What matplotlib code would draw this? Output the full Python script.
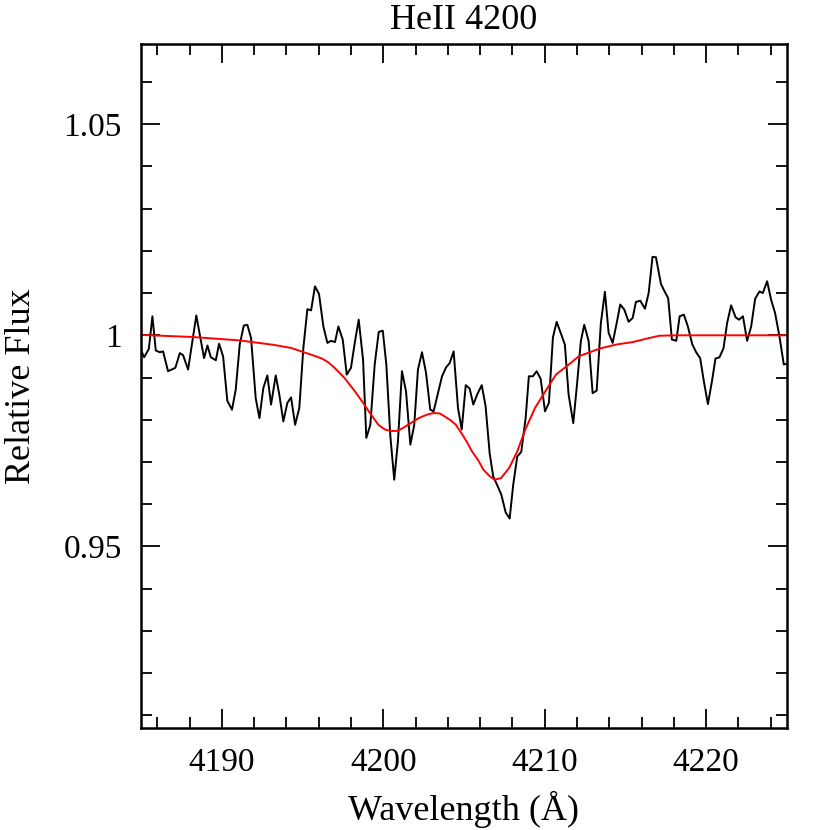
import numpy as np
import matplotlib
matplotlib.use("Agg")
import matplotlib.pyplot as plt
from matplotlib.ticker import MultipleLocator, FixedLocator, FixedFormatter

plt.rcParams['font.family'] = ['Liberation Serif', 'DejaVu Serif']

wave_obs = [4184.98, 4185.19, 4185.48, 4185.70, 4185.91, 4186.16, 4186.36, 4186.67, 4187.12, 4187.40,
            4187.60, 4187.91, 4188.42, 4188.90, 4189.11, 4189.32, 4189.63, 4189.83, 4190.08, 4190.34,
            4190.63, 4190.86, 4191.11, 4191.36, 4191.58, 4191.81, 4192.10, 4192.33, 4192.57, 4192.82,
            4193.05, 4193.34, 4193.56, 4193.81, 4194.06, 4194.29, 4194.54, 4194.80, 4195.05, 4195.30,
            4195.53, 4195.77, 4196.02, 4196.29, 4196.54, 4196.76, 4197.01, 4197.22, 4197.49, 4197.74,
            4198.00, 4198.25, 4198.48, 4198.75, 4198.95, 4199.20, 4199.47, 4199.72, 4199.97, 4200.19,
            4200.44, 4200.68, 4200.91, 4201.16, 4201.41, 4201.68, 4201.92, 4202.15, 4202.40, 4202.65,
            4202.91, 4203.12, 4203.39, 4203.64, 4203.89, 4204.11, 4204.36, 4204.63, 4204.86, 4205.11,
            4205.35, 4205.58, 4205.82, 4206.10, 4206.34, 4206.59, 4206.81, 4207.06, 4207.31, 4207.58,
            4207.83, 4208.05, 4208.30, 4208.55, 4208.82, 4209.02, 4209.27, 4209.50, 4209.75, 4210.02,
            4210.26, 4210.51, 4210.74, 4210.99, 4211.25, 4211.48, 4211.77, 4212.00, 4212.24, 4212.45,
            4212.72, 4212.97, 4213.22, 4213.48, 4213.73, 4213.96, 4214.21, 4214.46, 4214.68, 4214.93,
            4215.20, 4215.45, 4215.65, 4215.92, 4216.21, 4216.44, 4216.68, 4216.89, 4217.20, 4217.40,
            4217.65, 4217.88, 4218.15, 4218.36, 4218.62, 4218.87, 4219.14, 4219.38, 4219.63, 4219.86,
            4220.11, 4220.36, 4220.58, 4220.83, 4221.08, 4221.30, 4221.55, 4221.82, 4222.03, 4222.28,
            4222.54, 4222.79, 4223.04, 4223.31, 4223.51, 4223.78, 4224.02, 4224.27, 4224.54, 4224.81,
            4224.95]
flux_obs = [0.9966, 0.9948, 0.9968, 1.0045, 0.9964, 0.9960, 0.9962, 0.9915, 0.9923, 0.9958,
            0.9953, 0.9919, 1.0047, 0.9946, 0.9976, 0.9948, 0.9941, 0.9980, 0.9950, 0.9845,
            0.9824, 0.9871, 0.9978, 1.0023, 1.0025, 0.9994, 0.9851, 0.9804, 0.9875, 0.9905,
            0.9836, 0.9905, 0.9860, 0.9796, 0.9840, 0.9853, 0.9788, 0.9828, 0.9970, 1.0062,
            1.0059, 1.0116, 1.0098, 1.0021, 0.9982, 0.9987, 0.9984, 1.0021, 0.9990, 0.9907,
            0.9923, 0.9986, 1.0037, 0.9942, 0.9757, 0.9788, 0.9931, 1.0008, 1.0011, 0.9931,
            0.9761, 0.9658, 0.9749, 0.9915, 0.9867, 0.9741, 0.9788, 0.9919, 0.9960, 0.9911,
            0.9824, 0.9820, 0.9863, 0.9903, 0.9924, 0.9934, 0.9962, 0.9828, 0.9777, 0.9882,
            0.9874, 0.9836, 0.9860, 0.9882, 0.9832, 0.9721, 0.9666, 0.9645, 0.9623, 0.9581,
            0.9566, 0.9646, 0.9713, 0.9724, 0.9804, 0.9903, 0.9903, 0.9915, 0.9897, 0.9820,
            0.9840, 0.9995, 1.0032, 1.0006, 0.9978, 0.9860, 0.9792, 0.9883, 0.9986, 1.0025,
            0.9987, 0.9863, 0.9869, 1.0029, 1.0103, 1.0006, 0.9982, 1.0029, 1.0073, 1.0061,
            1.0032, 1.0041, 1.0079, 1.0082, 1.0063, 1.0100, 1.0186, 1.0185, 1.0122, 1.0106,
            1.0088, 0.9990, 0.9987, 1.0045, 1.0049, 1.0021, 0.9979, 0.9960, 0.9946, 0.9891,
            0.9837, 0.9891, 0.9945, 0.9948, 0.9970, 1.0029, 1.0071, 1.0043, 1.0037, 1.0045,
            0.9987, 1.0021, 1.0087, 1.0104, 1.0100, 1.0128, 1.0085, 1.0053, 0.9998, 0.9931,
            0.9932]

# model fit
wave_fit = [4185.0, 4188.2, 4191.1, 4193.2, 4194.3, 4195.0, 4195.7, 4196.2, 4196.6, 4197.0,
            4197.6, 4198.25, 4198.7, 4199.1, 4199.7, 4200.1, 4200.5, 4200.9, 4201.2, 4201.7,
            4202.2, 4202.7, 4203.1, 4203.5, 4203.8, 4204.2, 4204.5, 4204.9, 4205.2, 4205.5,
            4205.9, 4206.2, 4206.6, 4206.9, 4207.3, 4207.8, 4208.3, 4208.8, 4209.4, 4210.1,
            4210.7, 4211.5, 4212.1, 4213.4, 4214.4, 4215.45, 4216.3, 4217.1, 4218.1, 4225.0]
flux_fit = [1.0001, 0.9996, 0.9988, 0.99775, 0.9970, 0.9961, 0.9952, 0.9945, 0.9936, 0.99225,
            0.9899, 0.9867, 0.9843, 0.9820, 0.9788, 0.9777, 0.9773, 0.9774, 0.9780, 0.9792,
            0.9804, 0.9812, 0.9816, 0.9815, 0.9808, 0.9798, 0.9788, 0.9765, 0.9746, 0.9725,
            0.9703, 0.9682, 0.9666, 0.9658, 0.9662, 0.9686, 0.9725, 0.9777, 0.9828, 0.9871,
            0.9907, 0.9931, 0.9950, 0.99685, 0.9978, 0.9984, 0.9992, 0.9999, 1.0, 1.0]

fig = plt.figure(figsize=(8.3, 8.3), dpi=100)
ax = fig.add_axes([0.170, 0.1229, 0.778, 0.8241])

ax.plot(wave_obs, flux_obs, color='black', lw=1.4)
ax.plot(wave_fit, flux_fit, color='red', lw=1.4)

ax.set_xlim(4185, 4225)
ax.set_ylim(0.907, 1.069)

ax.xaxis.set_major_locator(MultipleLocator(10))
ax.xaxis.set_minor_locator(MultipleLocator(2))
ax.yaxis.set_major_locator(FixedLocator([0.95, 1.0, 1.05]))
ax.yaxis.set_major_formatter(FixedFormatter(['0.95', '1', '1.05']))
ax.yaxis.set_minor_locator(MultipleLocator(0.01))

ax.tick_params(which='both', direction='in', top=True, right=True, width=1.3, labelsize=24)
ax.tick_params(which='major', length=14, pad=14)
ax.tick_params(which='minor', length=8)
for s in ax.spines.values():
    s.set_linewidth(1.8)

ax.set_xlabel('Wavelength (Å)', fontsize=26, labelpad=9)
ax.set_ylabel('Relative Flux', fontsize=26, labelpad=18)
ax.set_title('HeII 4200', fontsize=26, pad=11)

fig.savefig('out.png', dpi=100)
